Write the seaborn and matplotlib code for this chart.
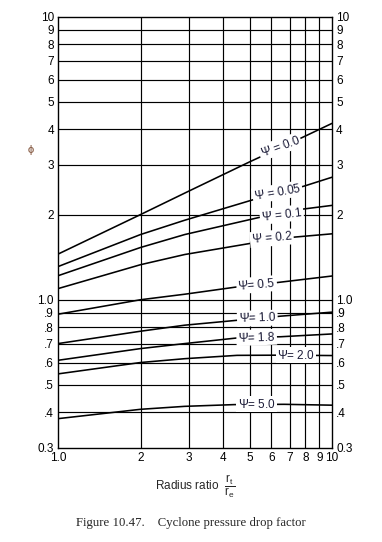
import matplotlib
matplotlib.use('Agg')
import matplotlib.pyplot as plt
import numpy as np
import pandas as pd
import seaborn as sns

# values (radius ratio -> phi), one curve per psi
psi_labels = ['0.0', '0.05', '0.1', '0.2', '0.5', '1.0', '1.8', '2.0', '5.0']

x_00 = [1.0, 2.0, 3.0, 5.0, 7.5, 10.0]
y_00 = [1.45, 2.0, 2.42, 3.07, 3.68, 4.2]

x_005 = [1.0, 2.0, 2.9, 5.1, 7.9, 10.0]
y_005 = [1.31, 1.70, 1.91, 2.25, 2.52, 2.71]

x_01 = [1.0, 2.0, 2.9, 5.5, 7.8, 10.0]
y_01 = [1.216, 1.53, 1.70, 1.96, 2.09, 2.155]

x_02 = [1.0, 2.0, 2.9, 5.0, 7.3, 10.0]
y_02 = [1.095, 1.33, 1.445, 1.58, 1.665, 1.71]

x_05 = [1.0, 2.0, 2.9, 4.5, 6.3, 10.0]
y_05 = [0.889, 1.0, 1.046, 1.11, 1.15, 1.213]

x_10 = [1.0, 2.0, 2.9, 4.5, 6.5, 10.0]
y_10 = [0.70, 0.774, 0.813, 0.846, 0.875, 0.904]

x_18 = [1.0, 2.0, 2.9, 4.7, 6.5, 10.0]
y_18 = [0.611, 0.672, 0.70, 0.736, 0.74, 0.757]

x_20 = [1.0, 2.0, 2.9, 4.5, 6.5, 10.0]
y_20 = [0.547, 0.60, 0.619, 0.636, 0.637, 0.635]

x_50 = [1.0, 2.0, 2.9, 4.4, 6.7, 10.0]
y_50 = [0.38, 0.41, 0.42, 0.426, 0.427, 0.424]

curve_x = [x_00, x_005, x_01, x_02, x_05, x_10, x_18, x_20, x_50]
curve_y = [y_00, y_005, y_01, y_02, y_05, y_10, y_18, y_20, y_50]

# label anchor points and slant
label_x = [6.46, 6.32, 6.55, 6.03, 5.31, 5.34, 5.31, 7.39, 5.31]
label_y = [3.48, 2.40, 2.00, 1.65, 1.13, 0.86, 0.736, 0.637, 0.427]
label_rot = [20, 10, 7, 5, 5, 2, 2, 0, 0]
label_text = [r'$\Psi$ = 0.0', r'$\Psi$ = 0.05', r'$\Psi$ = 0.1', r'$\Psi$ = 0.2',
              r'$\Psi$= 0.5', r'$\Psi$= 1.0', r'$\Psi$= 1.8', r'$\Psi$= 2.0', r'$\Psi$= 5.0']

x_ticks = [1, 2, 3, 4, 5, 6, 7, 8, 9, 10]
x_ticklabels = ['1.0', '2', '3', '4', '5', '6', '7', '8', '9', '10']
y_ticks = [0.3, 0.4, 0.5, 0.6, 0.7, 0.8, 0.9, 1.0, 2, 3, 4, 5, 6, 7, 8, 9, 10]
y_ticklabels = ['0.3', '.4', '.5', '.6', '.7', '.8', '.9', '1.0',
                '2', '3', '4', '5', '6', '7', '8', '9', '10']

rows = []
for lab, xs, ys in zip(psi_labels, curve_x, curve_y):
    for a, b in zip(xs, ys):
        rows.append({'psi': lab, 'ratio': a, 'phi': b})
df = pd.DataFrame(rows)

sns.set_style('white')
plt.rcParams['font.family'] = ['Liberation Sans', 'DejaVu Sans']
plt.rcParams['mathtext.fontset'] = 'custom'
plt.rcParams['mathtext.rm'] = 'Liberation Sans'
plt.rcParams['mathtext.it'] = 'Liberation Sans'
plt.rcParams['mathtext.sf'] = 'Liberation Sans'

fig = plt.figure(figsize=(3.82, 5.42), dpi=100)
ax = fig.add_axes([0.152, 0.174, 0.717, 0.795])

sns.lineplot(data=df, x='ratio', y='phi', units='psi', estimator=None,
             color='black', linewidth=1.15, ax=ax, sort=True, zorder=3)

ax.set_xscale('log')
ax.set_yscale('log')
ax.set_xlim(1, 10)
ax.set_ylim(0.3, 10)

for v in x_ticks[1:-1]:
    ax.axvline(v, color='black', linewidth=0.85, zorder=1)
for v in y_ticks[1:-1]:
    ax.axhline(v, color='black', linewidth=0.85, zorder=1)

ax.minorticks_off()
ax.set_xticks(x_ticks)
ax.set_xticklabels(x_ticklabels)
ax.set_yticks(y_ticks)
ax.set_yticklabels(y_ticklabels)
ax.tick_params(axis='both', length=0, pad=3, labelsize=8.5, colors='black')
ax.tick_params(axis='y', which='both', right=True, labelright=True)
for s in ax.spines.values():
    s.set_color('black')
    s.set_linewidth(1.0)

for tx, ty, tr, tt in zip(label_x, label_y, label_rot, label_text):
    ax.text(tx, ty, tt, fontsize=8.5, rotation=tr, ha='center', va='center',
            color='#1c1c38', zorder=5, rotation_mode='anchor',
            bbox=dict(facecolor='white', edgecolor='none', pad=1.0))

ax.set_xlabel(r'Radius ratio  $\dfrac{\mathrm{r_t}}{\mathrm{r_e}}$', fontsize=8.5, labelpad=6)
ax.set_ylabel(r'$\phi$', fontsize=8, rotation=0, color='#7a4a30', labelpad=18)
ax.yaxis.set_label_coords(-0.1, 0.674)

fig.text(0.5, 0.035, 'Figure 10.47.    Cyclone pressure drop factor',
         family='Liberation Serif', fontsize=9.2, ha='center', va='center')

fig.savefig('out.png', dpi=100)
